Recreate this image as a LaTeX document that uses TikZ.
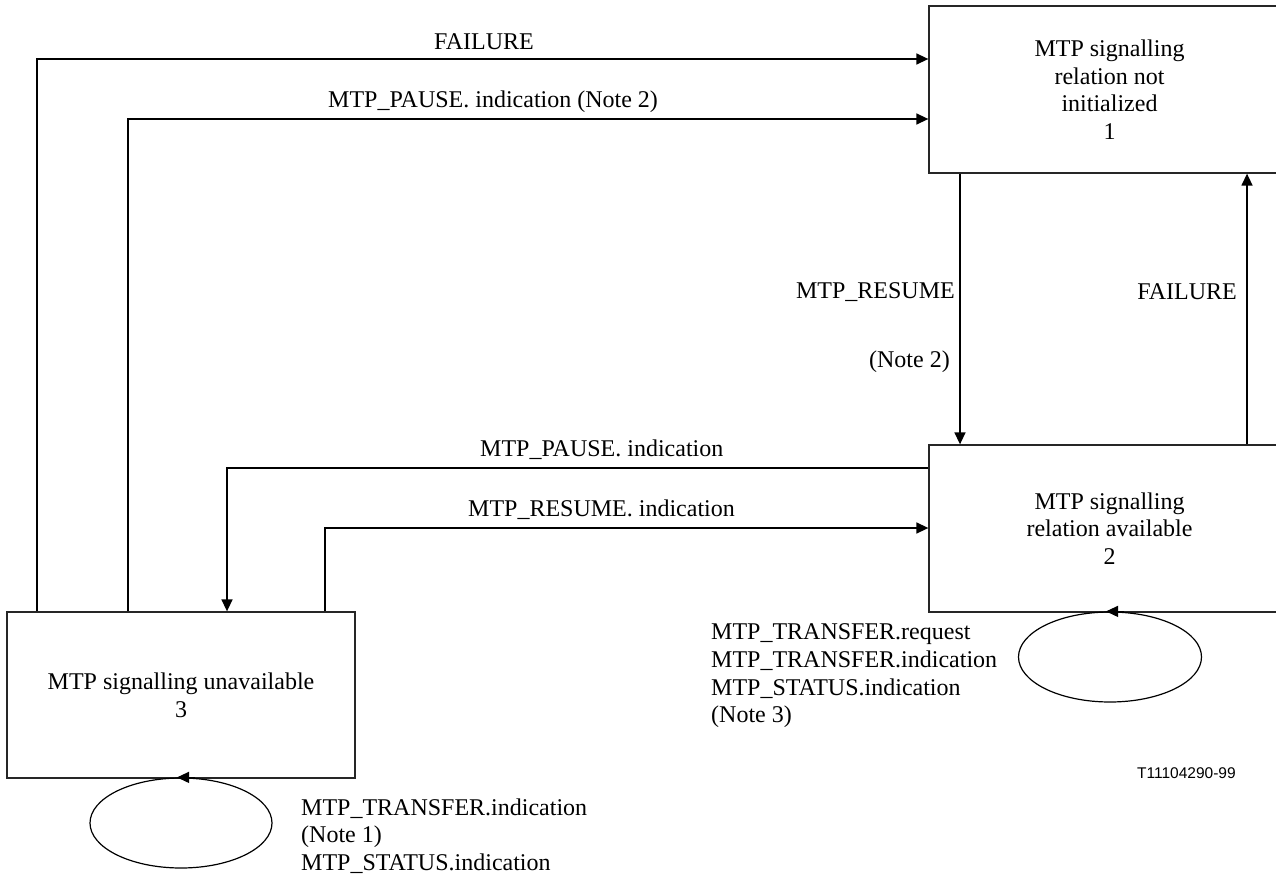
\documentclass[tikz,border=0pt]{standalone}
\usepackage{fontspec}
\setmainfont{Liberation Serif}
\newfontfamily\labsans{Liberation Sans}
\usetikzlibrary{arrows.meta,shapes.geometric}
\tikzset{
  statebox/.style={draw=black!85, line width=1.3pt, rectangle, inner sep=0pt, align=center},
  conn/.style={draw=black, line width=1.5pt},
  arr/.style={conn, -{Triangle[length=12pt,width=11pt]}},
  lbl/.style={inner sep=0pt, align=left},
  loopell/.style={draw=black, line width=1.2pt, ellipse, inner sep=0pt},
}
\begin{document}
\begin{tikzpicture}[x=1pt,y=-1pt, every node/.style={font=\fontsize{24}{27.6}\selectfont}]
\useasboundingbox (0,0) rectangle (1276,877);
\clip (0,0) rectangle (1276,877);
% state boxes
\node[statebox, minimum width=361, minimum height=167] (s1) at (1109.5,89.5)
  {MTP signalling\\relation not\\initialized\\1};
\node[statebox, minimum width=361, minimum height=167] (s2) at (1109.5,528.5)
  {MTP signalling\\relation available\\2};
\node[statebox, minimum width=348, minimum height=166] (s3) at (181,695)
  {MTP signalling unavailable\\3};
% helper coordinates
\coordinate (fa) at (37,59);
\coordinate (pa) at (128,119);
\coordinate (dn) at (960,0);
\coordinate (up) at (1247,0);
\coordinate (pi) at (227,468);
\coordinate (ri) at (325,528);
% connectors
\draw[arr] (s3.north -| fa) |- (s1.west |- fa);
\draw[arr] (s3.north -| pa) |- (s1.west |- pa);
\draw[arr] (s1.south -| dn) -- (s2.north -| dn);
\draw[arr] (s2.north -| up) -- (s1.south -| up);
\draw[arr] (s2.west |- pi) -| (s3.north -| pi);
\draw[arr] (s3.north -| ri) |- (s2.west |- ri);
% loops
\node[loopell, minimum width=183, minimum height=90] (l2) at (1110,657) {};
\draw[arr, line width=1.2pt] ([xshift=14]l2.north) -- ([xshift=-4]l2.north);
\node[loopell, minimum width=182, minimum height=90] (l3) at (181,823) {};
\draw[arr, line width=1.2pt] ([xshift=14]l3.north) -- ([xshift=-4]l3.north);
% labels
\node[lbl] (t1) at (484,42) {FAILURE};
\node[lbl, anchor=west] (t2) at (328,102) {MTP\_PAUSE. indication (Note 2)};
\node[lbl, anchor=west] (t3) at (480,450) {MTP\_PAUSE. indication};
\node[lbl, anchor=west] (t4) at (468,510) {MTP\_RESUME. indication};
\node[lbl, anchor=east] (t5) at (955,292) {MTP\_RESUME};
\node[lbl, anchor=east] (t6) at (950,362) {(Note 2)};
\node[lbl, anchor=east] (t7) at (1237,292) {FAILURE};
\node[lbl, anchor=west] (t8) at (711,676)
  {MTP\_TRANSFER.request\\MTP\_TRANSFER.indication\\MTP\_STATUS.indication\\(Note 3)};
\node[lbl, anchor=west] (t9) at (301,836)
  {MTP\_TRANSFER.indication\\(Note 1)\\MTP\_STATUS.indication};
\node[lbl, anchor=west, font=\labsans\fontsize{15.5}{18}\selectfont] (t10) at (1137,773) {T11104290-99};
\end{tikzpicture}
\end{document}
